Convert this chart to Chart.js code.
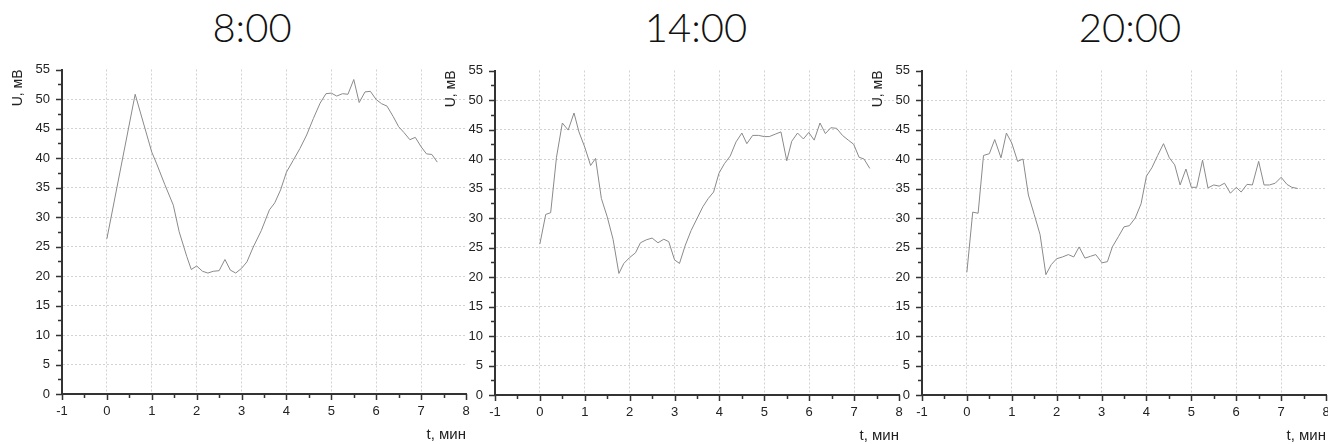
<!DOCTYPE html>
<html>
<head>
<meta charset="utf-8">
<script src="https://cdn.jsdelivr.net/npm/chart.js@4.4.1/dist/chart.umd.min.js"></script>
<style>
  html, body { margin: 0; padding: 0; background: #fff; overflow: hidden; }
  body { width: 1328px; height: 444px; position: relative; }
  canvas { position: absolute; }
  .title {
    position: absolute; top: 7px; width: 200px; text-align: center;
    font: 300 40px/40px Lato, 'Open Sans', sans-serif; color: #111;
  }
</style>
</head>
<body>
<div class="title" style="left:152px">8:00</div>
<div class="title" style="left:596px">14:00</div>
<div class="title" style="left:1030px">20:00</div>
<canvas id="c800" width="480" height="444" style="left:0;top:0"></canvas>
<canvas id="c1400" width="480" height="444" style="left:433px;top:1px"></canvas>
<canvas id="c2000" width="480" height="444" style="left:860px;top:1px"></canvas>
<script>
// Axis ticks
const xTickValues = [-1, 0, 1, 2, 3, 4, 5, 6, 7, 8];
const yTickValues = [0, 5, 10, 15, 20, 25, 30, 35, 40, 45, 50, 55];

// 8:00
const t800 = [0, 0.63, 1.0, 1.11, 1.29, 1.48, 1.61, 1.78, 1.88, 2.0, 2.13, 2.25, 2.37, 2.5, 2.63, 2.75,
  2.87, 3.0, 3.12, 3.26, 3.44, 3.62, 3.74, 3.87, 4.0, 4.15, 4.3, 4.45, 4.6, 4.75, 4.88, 5.0, 5.12, 5.25,
  5.37, 5.5, 5.62, 5.75, 5.87, 6.0, 6.12, 6.24, 6.38, 6.5, 6.62, 6.75, 6.87, 7.0, 7.12, 7.24, 7.36];
const u800 = [26.3, 50.8, 41.0, 39.0, 35.5, 32.0, 27.5, 23.3, 21.1, 21.7, 20.8, 20.5, 20.8, 20.9, 22.8, 21.0,
  20.5, 21.3, 22.4, 24.9, 27.7, 31.2, 32.4, 34.6, 37.6, 39.6, 41.6, 43.9, 46.7, 49.3, 50.9, 51.0, 50.5, 50.9,
  50.8, 53.3, 49.4, 51.2, 51.3, 49.9, 49.2, 48.8, 47.0, 45.3, 44.3, 43.1, 43.5, 41.9, 40.7, 40.6, 39.3];

// 14:00
const t1400 = [0, 0.13, 0.24, 0.37, 0.5, 0.63, 0.76, 0.87, 1.0, 1.13, 1.24, 1.37, 1.5, 1.63, 1.76, 1.87,
  2.0, 2.13, 2.24, 2.37, 2.5, 2.63, 2.76, 2.87, 3.0, 3.11, 3.24, 3.37, 3.5, 3.63, 3.75, 3.87, 3.99, 4.11,
  4.24, 4.37, 4.5, 4.61, 4.74, 4.87, 5.0, 5.11, 5.24, 5.37, 5.5, 5.61, 5.74, 5.87, 5.99, 6.11, 6.24, 6.36,
  6.48, 6.61, 6.74, 6.87, 6.99, 7.11, 7.22, 7.35];
const u1400 = [25.6, 30.6, 30.9, 40.3, 46.1, 44.9, 47.8, 44.6, 42.0, 38.9, 40.1, 33.3, 30.2, 26.4, 20.6, 22.3,
  23.3, 24.1, 25.8, 26.3, 26.6, 25.8, 26.4, 26.0, 22.9, 22.3, 25.4, 27.9, 29.9, 31.9, 33.3, 34.4, 37.6, 39.2,
  40.5, 42.9, 44.4, 42.6, 44.0, 44.0, 43.8, 43.8, 44.2, 44.6, 39.7, 43.0, 44.4, 43.4, 44.5, 43.2, 46.1, 44.3,
  45.3, 45.2, 44.0, 43.2, 42.5, 40.3, 40.0, 38.4];

// 20:00
const t2000 = [0, 0.13, 0.25, 0.37, 0.5, 0.62, 0.76, 0.88, 1.0, 1.13, 1.25, 1.37, 1.5, 1.63, 1.76, 1.88,
  2.0, 2.13, 2.26, 2.38, 2.5, 2.63, 2.75, 2.87, 3.01, 3.13, 3.24, 3.38, 3.5, 3.62, 3.75, 3.88, 4.0, 4.12,
  4.25, 4.38, 4.51, 4.63, 4.75, 4.88, 5.0, 5.12, 5.25, 5.37, 5.5, 5.62, 5.74, 5.87, 6.0, 6.11, 6.24, 6.36,
  6.5, 6.62, 6.74, 6.87, 7.0, 7.13, 7.24, 7.37];
const u2000 = [20.8, 31.0, 30.8, 40.6, 40.9, 43.3, 40.2, 44.4, 42.7, 39.6, 40.0, 33.9, 30.6, 27.2, 20.4, 22.1,
  23.1, 23.4, 23.8, 23.4, 25.1, 23.2, 23.5, 23.8, 22.4, 22.6, 25.1, 26.9, 28.5, 28.7, 30.0, 32.4, 37.1, 38.5,
  40.6, 42.6, 40.2, 39.0, 35.6, 38.3, 35.2, 35.2, 39.8, 35.1, 35.6, 35.4, 35.9, 34.2, 35.2, 34.4, 35.7, 35.6,
  39.6, 35.6, 35.6, 35.9, 36.9, 35.7, 35.2, 35.0];

const font = 'Liberation Sans';
const ink = '#222';

// Major and minor tick marks, placed by the scales
const tickMarks = {
  id: 'tickMarks',
  afterDraw(chart) {
    const { ctx, scales: { x, y } } = chart;
    const mids = (vals) => vals.slice(1).map((v, i) => (v + vals[i]) / 2);
    ctx.save();
    ctx.strokeStyle = '#333';
    ctx.lineWidth = 1.5;
    ctx.beginPath();
    xTickValues.forEach((v) => {
      const px = Math.round(x.getPixelForValue(v)) + 0.5;
      ctx.moveTo(px, y.bottom); ctx.lineTo(px, y.bottom + 6);
    });
    mids(xTickValues).forEach((v) => {
      const px = Math.round(x.getPixelForValue(v)) + 0.5;
      ctx.moveTo(px, y.bottom); ctx.lineTo(px, y.bottom + 4);
    });
    yTickValues.forEach((v) => {
      const py = Math.round(y.getPixelForValue(v)) + 0.5;
      ctx.moveTo(x.left, py); ctx.lineTo(x.left - 6, py);
    });
    mids(yTickValues).forEach((v) => {
      const py = Math.round(y.getPixelForValue(v)) + 0.5;
      ctx.moveTo(x.left, py); ctx.lineTo(x.left - 4, py);
    });
    ctx.stroke();
    ctx.restore();
  }
};

// hide grid lines that fall on the frame edges
const gridColor = (ends) => (c) => (c.tick && ends.includes(c.tick.value) ? 'rgba(0,0,0,0)' : '#d2d2d2');

const makeChart = (canvasId, times, values) => {
  const ctx = document.getElementById(canvasId).getContext('2d');
  return new Chart(ctx, {
    type: 'line',
    data: {
      datasets: [{
        data: times.map((t, i) => ({ x: t, y: values[i] })),
        borderColor: '#8a8a8a',
        borderWidth: 1,
        pointRadius: 0,
        tension: 0,
      }],
    },
    options: {
      responsive: false,
      animation: false,
      events: [],
      layout: { padding: { left: 0, right: 14, top: 69.5, bottom: 0 } },
      plugins: {
        legend: { display: false },
        tooltip: { enabled: false },
      },
      scales: {
        x: {
          type: 'linear',
          min: -1,
          max: 8,
          afterBuildTicks: (s) => { s.ticks = xTickValues.map(v => ({ value: v })); },
          afterFit: (s) => { s.height = 50; },
          ticks: { color: ink, font: { family: font, size: 13 }, padding: 10, autoSkip: false, maxRotation: 0 },
          grid: { color: gridColor([-1, 8]), lineWidth: 1, drawTicks: false },
          border: { color: '#333', width: 2, dash: [2, 2] },
          title: {
            display: true, text: 't, мин', align: 'end', color: ink,
            font: { family: font, size: 15 }, padding: { top: 0, bottom: 0 },
          },
        },
        y: {
          min: 0,
          max: 55,
          afterBuildTicks: (s) => { s.ticks = yTickValues.map(v => ({ value: v })); },
          afterFit: (s) => { s.width = 62; },
          ticks: { color: ink, font: { family: font, size: 13 }, padding: 12, autoSkip: false },
          grid: { color: gridColor([0, 55]), lineWidth: 1, drawTicks: false },
          border: { color: '#333', width: 2, dash: [2, 2] },
          title: {
            display: true, text: 'U, мВ', align: 'end', color: ink,
            font: { family: font, size: 14 }, padding: { top: 10, bottom: 0 },
          },
        },
      },
    },
    plugins: [tickMarks],
  });
};

makeChart('c800', t800, u800);
makeChart('c1400', t1400, u1400);
makeChart('c2000', t2000, u2000);
</script>
</body>
</html>
